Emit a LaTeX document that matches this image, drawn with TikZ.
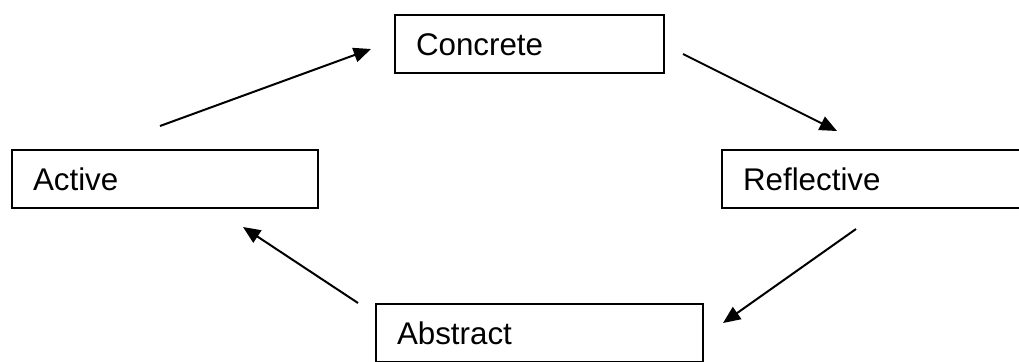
\documentclass[tikz,border=0pt]{standalone}
\usepackage{fontspec}
\setmainfont{Liberation Sans}
\usetikzlibrary{arrows.meta}
\tikzset{
  stage/.style={draw, line width=1.2pt, rectangle, align=left, inner xsep=15.75pt,
    minimum height=43.5pt, text height=17pt, text depth=0pt,
    font=\fontsize{23.5}{28}\selectfont},
  flow/.style={-{Triangle[length=13pt,width=11pt]}, line width=1.5pt}
}

\begin{document}
\begin{tikzpicture}[x=0.75pt,y=-0.75pt]
        \useasboundingbox (0,0) rectangle (1019,361);
        % the four stages
        \node[stage, text width=170.25pt] (conc) at (529.5,44) {Concrete};
        \node[stage, text width=198pt] (act) at (165,179) {Active};
        \node[stage, text width=193.5pt] (refl) at (872,179) {Reflective};
        \node[stage, text width=213.75pt] (abst) at (539.5,333) {Abstract};

        % arrow ends
        \coordinate (a1) at (160,126);
        \coordinate (b1) at (371,49);
        \coordinate (a2) at (683,54);
        \coordinate (b2) at (837,131);
        \coordinate (a3) at (856,229);
        \coordinate (b3) at (723,323);
        \coordinate (a4) at (358,303);
        \coordinate (b4) at (243,227);

        % cycle
        \draw[flow] (a1) -- (b1);
        \draw[flow] (a2) -- (b2);
        \draw[flow] (a3) -- (b3);
        \draw[flow] (a4) -- (b4);
\end{tikzpicture}
\end{document}
